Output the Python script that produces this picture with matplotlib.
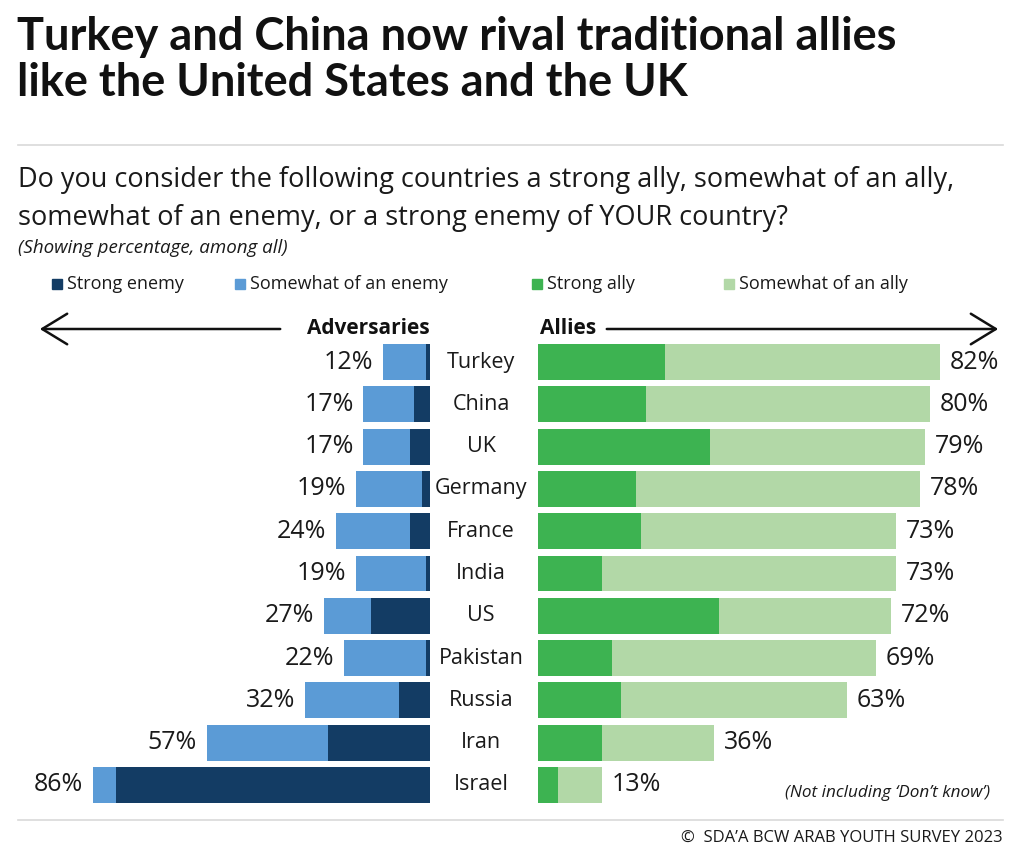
import matplotlib.pyplot as plt
from matplotlib.patches import Rectangle, FancyArrowPatch

plt.rcParams['font.family'] = ['Open Sans', 'DejaVu Sans']

countries = ['Turkey', 'China', 'UK', 'Germany', 'France', 'India', 'US',
             'Pakistan', 'Russia', 'Iran', 'Israel']
enemy_total = [12, 17, 17, 19, 24, 19, 27, 22, 32, 57, 86]
strong_enemy = [1, 4, 5, 2, 5, 1, 15, 1, 8, 26, 80]
ally_total = [82, 80, 79, 78, 73, 73, 72, 69, 63, 36, 13]
strong_ally = [26, 22, 35, 20, 21, 13, 37, 15, 17, 13, 4]

somewhat_enemy = [t - s for t, s in zip(enemy_total, strong_enemy)]
somewhat_ally = [t - s for t, s in zip(ally_total, strong_ally)]

c_strong_enemy = '#133c64'
c_some_enemy = '#5b9bd6'
c_strong_ally = '#3db351'
c_some_ally = '#b2d8a7'
txt = '#1a1a1a'

W, H = 1024, 850
fig = plt.figure(figsize=(W / 100, H / 100), dpi=100)


def fx(px):
    return px / W


def fy(py):
    return 1 - py / H


# titles
for line, base in [('Turkey and China now rival traditional allies', 50),
                   ('like the United States and the UK', 96)]:
    fig.text(fx(17), fy(base), line, fontsize=32.5, fontweight='bold',
             family=['Lato', 'DejaVu Sans'], color='#111111', va='baseline')
fig.add_artist(plt.Line2D([fx(18), fx(1003)], [fy(145), fy(145)],
                          color='#d9d9d9', lw=1.2))
fig.text(fx(18), fy(187), 'Do you consider the following countries a strong ally, somewhat of an ally,',
         fontsize=19.5, color=txt, va='baseline')
fig.text(fx(18), fy(225), 'somewhat of an enemy, or a strong enemy of YOUR country?',
         fontsize=19.5, color=txt, va='baseline')
fig.text(fx(18), fy(248), '(Showing percentage, among all)',
         fontsize=13.5, style='italic', color=txt, va='center')

# legend
legend = [('Strong enemy', c_strong_enemy, 52),
          ('Somewhat of an enemy', c_some_enemy, 235),
          ('Strong ally', c_strong_ally, 532),
          ('Somewhat of an ally', c_some_ally, 724)]
for label, col, x in legend:
    fig.add_artist(Rectangle((fx(x), fy(289)), fx(10), 10 / H,
                             color=col, transform=fig.transFigure))
    fig.text(fx(x + 15), fy(284), label, fontsize=13, color=txt, va='center')

# arrows and side headers
fig.add_artist(FancyArrowPatch((fx(283), fy(329)), (fx(37), fy(329)),
                               transform=fig.transFigure, arrowstyle='->,head_length=0.9,head_width=0.55',
                               lw=1.8, color='#111111', mutation_scale=20))
fig.text(fx(430), fy(329), 'Adversaries', fontsize=15, fontweight='bold',
         color='#111111', ha='right', va='center')
fig.text(fx(540), fy(329), 'Allies', fontsize=15, fontweight='bold',
         color='#111111', ha='left', va='center')
fig.add_artist(FancyArrowPatch((fx(604), fy(329)), (fx(1001), fy(329)),
                               transform=fig.transFigure, arrowstyle='->,head_length=0.9,head_width=0.55',
                               lw=1.8, color='#111111', mutation_scale=20))

# axes
top, bottom = 341, 806
ax_l = fig.add_axes([fx(18), fy(bottom), fx(430 - 18), (bottom - top) / H])
ax_r = fig.add_axes([fx(538), fy(bottom), fx(1003 - 538), (bottom - top) / H])

y = list(range(len(countries)))
bh = 0.85

ax_l.barh(y, strong_enemy, height=bh, color=c_strong_enemy)
ax_l.barh(y, somewhat_enemy, left=strong_enemy, height=bh, color=c_some_enemy)
ax_l.set_xlim((430 - 18) / 3.92, 0)

ax_r.barh(y, strong_ally, height=bh, color=c_strong_ally)
ax_r.barh(y, somewhat_ally, left=strong_ally, height=bh, color=c_some_ally)
ax_r.set_xlim(0, (1003 - 538) / 4.9)

for ax in (ax_l, ax_r):
    ax.set_ylim(len(countries) - 0.5, -0.5)
    ax.axis('off')

for i, v in enumerate(enemy_total):
    ax_l.annotate(f'{v}%', (v, i), xytext=(-7, 0), textcoords='offset points',
                  ha='right', va='center', fontsize=18, color=txt)
for i, v in enumerate(ally_total):
    ax_r.annotate(f'{v}%', (v, i), xytext=(7, 0), textcoords='offset points',
                  ha='left', va='center', fontsize=18, color=txt)
    ax_r.annotate(countries[i], (0, i), xytext=(-41, 0), textcoords='offset points',
                  ha='center', va='center', fontsize=15.5, color=txt)

fig.text(fx(990), fy(793), '(Not including \u2018Don\u2019t know\u2019)', fontsize=12.3,
         style='italic', color=txt, ha='right', va='center')
fig.add_artist(plt.Line2D([fx(18), fx(1003)], [fy(820), fy(820)],
                          color='#d9d9d9', lw=1.2))
fig.text(fx(1003), fy(838), '\u00a9  SDA\u2019A BCW ARAB YOUTH SURVEY 2023', fontsize=12,
         color=txt, ha='right', va='center')

fig.savefig('out.png', dpi=100, facecolor='white')
